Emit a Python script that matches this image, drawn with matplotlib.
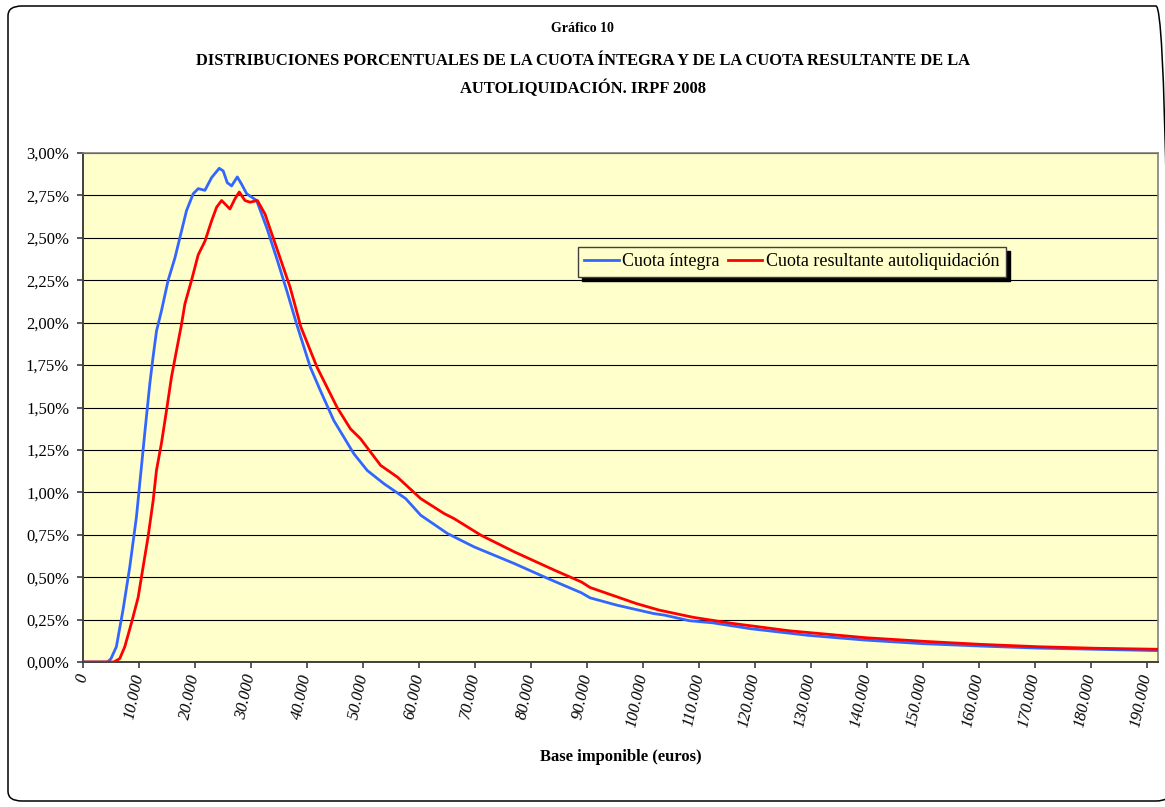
import matplotlib
matplotlib.use("Agg")
import matplotlib.pyplot as plt
from matplotlib.patches import FancyBboxPatch
from matplotlib.ticker import FuncFormatter, MultipleLocator

# Base imponible (euros) and percentage share
integra_x = [0, 4400, 5000, 5960, 7160, 8350, 9540, 10430, 11030, 11930, 12520,
             13120, 14010, 15200, 16400, 17590, 18480, 19680, 20570, 21770,
             22960, 24330, 25040, 25760, 26530, 27550, 28320, 29220, 31000,
             32800, 34580, 36370, 38160, 40590, 42380, 44770, 48350, 50750,
             53730, 57620, 60300, 65090, 69860, 77030, 83010, 88980, 90550,
             95330, 101820, 103880, 108320, 112420, 119250, 129510, 139760,
             150010, 160270, 170520, 180770, 192000]
integra_y = [0.0, 0.0, 0.02, 0.09, 0.31, 0.56, 0.855, 1.15, 1.35, 1.64, 1.80,
             1.95, 2.07, 2.25, 2.38, 2.54, 2.66, 2.76, 2.79, 2.78,
             2.855, 2.91, 2.894, 2.825, 2.806, 2.859, 2.816, 2.76, 2.72,
             2.56, 2.38, 2.19, 1.99, 1.737, 1.60, 1.424, 1.228, 1.129,
             1.051, 0.963, 0.865, 0.757, 0.678, 0.58, 0.492, 0.408, 0.378,
             0.335, 0.286, 0.276, 0.243, 0.231, 0.196, 0.157, 0.129,
             0.108, 0.094, 0.082, 0.075, 0.067]

resultante_x = [0, 5500, 6560, 7460, 8650, 9840, 10730, 11630, 12520, 13120,
                14010, 14900, 15800, 16690, 17590, 18190, 19380, 20570, 21770,
                22960, 23850, 24750, 26240, 27130, 27900, 28920, 29820, 31130,
                32500, 34580, 36970, 38900, 41790, 45380, 47760, 49550, 53140,
                56130, 60300, 64480, 66270, 71060, 77030, 84190, 88980, 90550,
                98750, 102850, 109000, 115840, 126090, 139760, 150010, 160270,
                170520, 180770, 192000]
resultante_y = [0.0, 0.0, 0.02, 0.09, 0.23, 0.38, 0.56, 0.74, 0.95, 1.13,
                1.29, 1.48, 1.68, 1.835, 1.99, 2.11, 2.25, 2.40, 2.48,
                2.60, 2.68, 2.72, 2.67, 2.73, 2.77, 2.72, 2.71, 2.72,
                2.64, 2.44, 2.21, 1.975, 1.737, 1.50, 1.374, 1.316, 1.159,
                1.09, 0.963, 0.875, 0.845, 0.747, 0.649, 0.541, 0.472, 0.439,
                0.345, 0.306, 0.263, 0.228, 0.184, 0.143, 0.122, 0.104,
                0.09, 0.081, 0.075]

series_labels = ["Cuota íntegra", "Cuota resultante autoliquidación"]
title_lines = [
    "Gráfico 10",
    "DISTRIBUCIONES PORCENTUALES DE LA CUOTA ÍNTEGRA Y DE LA CUOTA RESULTANTE DE LA",
    "AUTOLIQUIDACIÓN. IRPF 2008",
]
x_label = "Base imponible (euros)"

plt.rcParams["font.family"] = ["Liberation Serif", "DejaVu Serif"]

W, H = 1165, 807
fig = plt.figure(figsize=(W / 100, H / 100), dpi=100)
fig.patch.set_facecolor("white")

# outer rounded frame (right side runs off the picture)
frame = FancyBboxPatch((8 / W, 1 - 801 / H), 1162 / W, 795 / H,
                       boxstyle="round,pad=0,rounding_size=0.012",
                       transform=fig.transFigure, facecolor="none",
                       edgecolor="black", linewidth=1.1, clip_on=False)
fig.patches.append(frame)

ax = fig.add_axes([83 / W, 1 - 662 / H, (1158.3 - 83) / W, (662 - 153) / H])
ax.set_facecolor("#ffffcc")

ax.plot(integra_x, integra_y, color="#3366ff", linewidth=2.0,
        label=series_labels[0], zorder=3)
ax.plot(resultante_x, resultante_y, color="#ff0000", linewidth=2.0,
        label=series_labels[1], zorder=4)

ax.set_xlim(0, 192000)
ax.set_ylim(0, 3.0)
ax.xaxis.set_major_locator(MultipleLocator(10000))
ax.yaxis.set_major_locator(MultipleLocator(0.25))
ax.xaxis.set_major_formatter(FuncFormatter(lambda v, p: f"{int(round(v)):,}".replace(",", ".")))
ax.yaxis.set_major_formatter(FuncFormatter(lambda v, p: f"{v:.2f}%".replace(".", ",")))

ax.grid(axis="y", color="black", linewidth=0.8, zorder=1)
ax.set_axisbelow(True)

for side in ("left", "bottom"):
    ax.spines[side].set_color("#404040")
    ax.spines[side].set_linewidth(1.4)
for side in ("top", "right"):
    ax.spines[side].set_color("#808080")
    ax.spines[side].set_linewidth(1.2)

ax.tick_params(axis="y", direction="out", length=4, width=1.2, color="#404040",
               pad=6, labelsize=12)
ax.tick_params(axis="x", direction="out", length=4.5, width=1.2, color="#404040",
               pad=4, labelsize=12)
plt.setp(ax.get_xticklabels(), rotation=78, ha="right", va="center",
         rotation_mode="anchor", style="italic")

ax.set_xlabel(x_label, fontsize=12, fontweight="bold", labelpad=15)

leg = ax.legend(loc="upper left", bbox_to_anchor=(0.4605, 0.815), ncol=2,
                fontsize=13, frameon=True, fancybox=False,
                shadow={"ox": 3, "oy": -3, "color": "black", "alpha": 1},
                handlelength=1.9, handletextpad=0.2, columnspacing=0.45,
                borderpad=0.35, borderaxespad=0)
leg.get_frame().set_facecolor("#ffffcc")
leg.get_frame().set_edgecolor("#404040")
leg.get_frame().set_linewidth(1.0)

title_y = [28, 61, 88]
title_size = [10, 11.9, 11.9]
for text, ypx, size in zip(title_lines, title_y, title_size):
    fig.text(0.5, 1 - ypx / H, text, ha="center", va="center",
             fontsize=size, fontweight="bold")

fig.savefig("out.png", dpi=100)
